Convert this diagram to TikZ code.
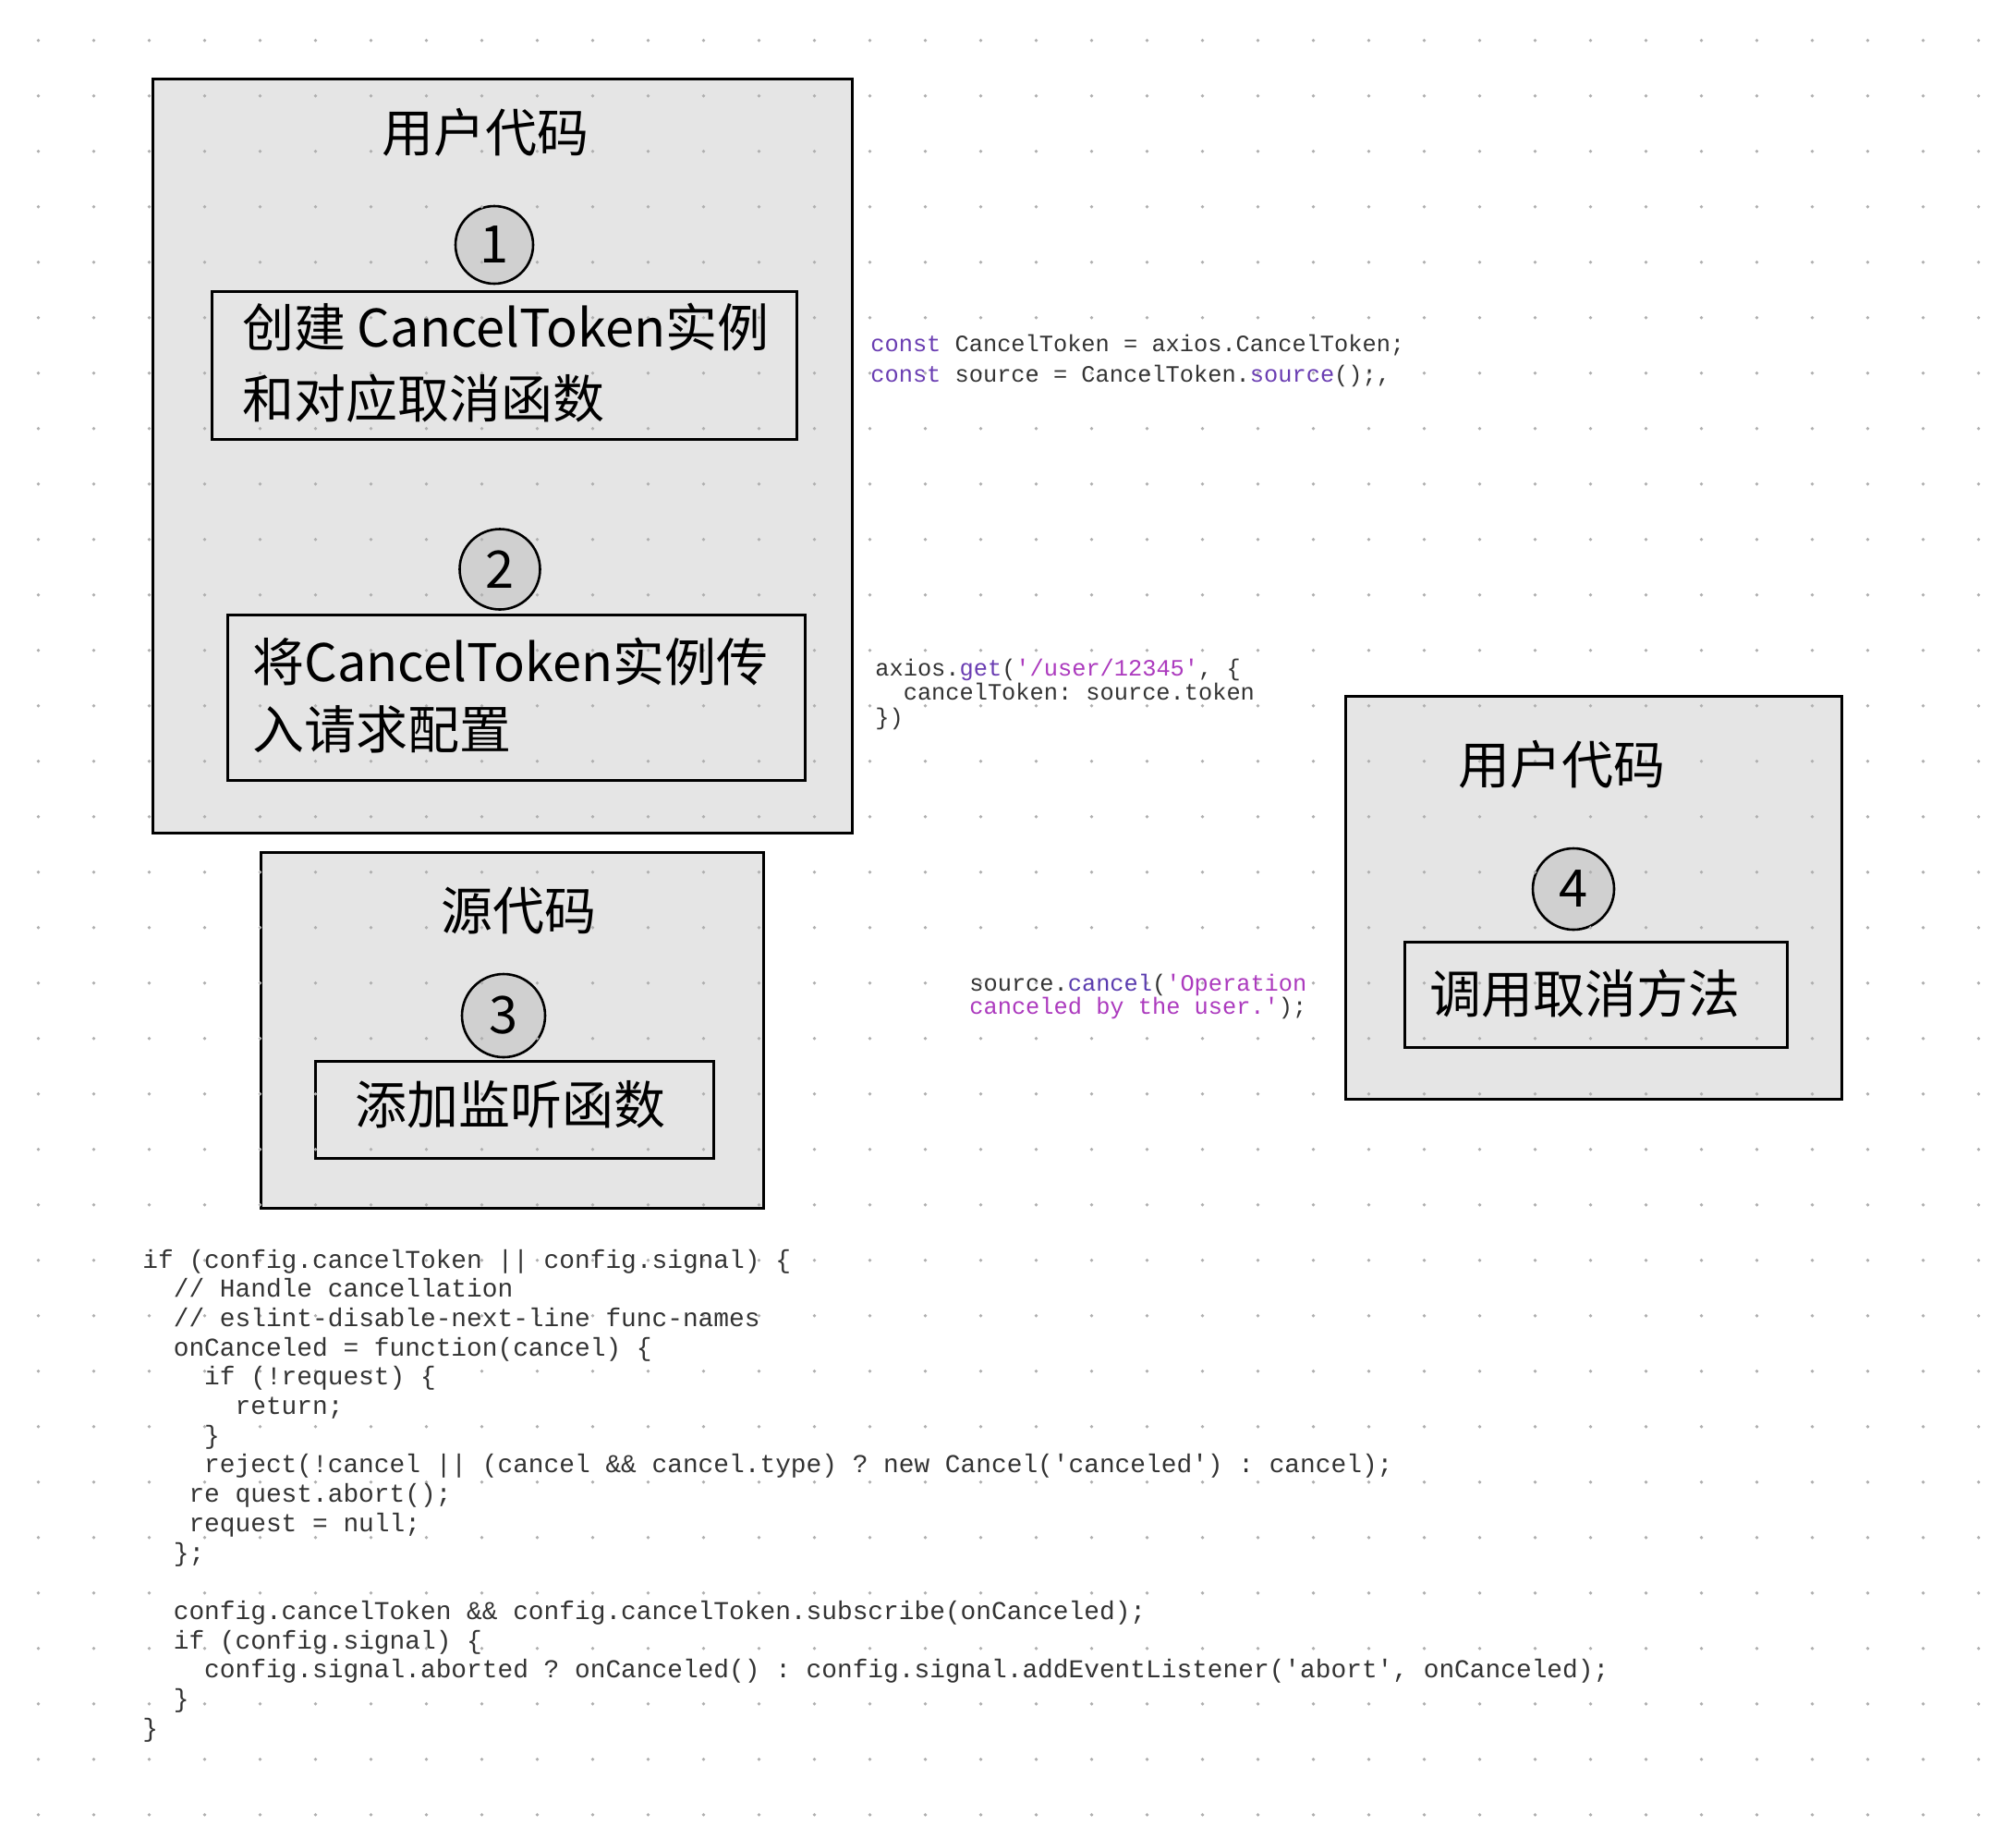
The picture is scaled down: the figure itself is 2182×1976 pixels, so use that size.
\documentclass[tikz,border=0pt]{standalone}
\usepackage{fontspec}
\setmonofont{Liberation Mono}
\newfontfamily\cjk{Noto Sans CJK SC}
\usetikzlibrary{fit}
\definecolor{panelgray}{HTML}{E5E5E5}
\definecolor{numgray}{HTML}{D0D0D0}
\definecolor{dotgray}{HTML}{AFAFAF}
\definecolor{codetext}{HTML}{333333}
\definecolor{kw}{HTML}{6A3DB2}
\definecolor{fn}{HTML}{5A3CAF}
\definecolor{str}{HTML}{AC3ABE}
\begin{document}
\begin{tikzpicture}[x=0.5pt,y=-0.5pt,
  panel/.style={draw=black,line width=1.5pt,fill=panelgray,inner sep=0pt},
  stepbox/.style={draw=black,line width=1.5pt,fill=panelgray,inner sep=0pt},
  numdisc/.style={circle,draw=black,line width=1.3pt,fill=numgray,inner sep=0pt,
    font=\cjk\fontsize{28}{30}\selectfont},
  title/.style={inner sep=0pt,font=\cjk\fontsize{28}{30}\selectfont,
    text height=0.85em,text depth=0.15em},
  cjkline/.style={inner sep=0pt,anchor=west,font=\cjk\fontsize{28}{30}\selectfont,
    text height=0.85em,text depth=0.15em},
  topcode/.style={inner sep=0pt,anchor=west,text=codetext,
    font=\ttfamily\fontsize{12.67}{14}\selectfont,text height=0.7em,text depth=0.2em},
  botcode/.style={inner sep=0pt,anchor=west,text=codetext,
    font=\ttfamily\fontsize{13.92}{15}\selectfont,text height=0.7em,text depth=0.2em}]
\path[use as bounding box,fill=white] (0,0) rectangle (2182,1976);
% panels
\node[panel,fit={(165,85) (922,901)}] (o1) {};
\node[panel,fit={(282,922) (826,1307)}] (o3) {};
\node[panel,fit={(1456,753) (1993,1189)}] (o4) {};
% step boxes
\node[stepbox,fit={(229,315) (862,475)}] (b1) {};
\node[stepbox,fit={(246,665) (871,844)}] (b2) {};
\node[stepbox,fit={(341,1148) (772,1253)}] (b3) {};
\node[stepbox,fit={(1520,1019) (1934,1133)}] (b4) {};
% number discs
\node[numdisc,minimum size=42pt] (n1) at (535,265) {1};
\node[numdisc,minimum size=43.5pt] (n2) at (541,616) {2};
\node[numdisc,minimum size=45pt] (n3) at (545,1099) {3};
\node[numdisc,minimum size=44pt] (n4) at (1703,962) {4};
% dot grid
\foreach \i in {0,...,35}{
  \foreach \j in {0,...,32}{
    \fill[dotgray] (41.5+60*\i,43.8+60*\j) circle[radius=0.95pt];
  }
}
% titles
\node[title] (t1) at (525,157) {用户代码};
\node[title] (t3) at (561,999) {源代码};
\node[title] (t4) at (1690,841) {用户代码};
% step texts
\node[cjkline] (s1a) at (262,368) {创建 CancelToken实例};
\node[cjkline] (s1b) at (262,445) {和对应取消函数};
\node[cjkline] (s2a) at (273,730) {将CancelToken实例传};
\node[cjkline] (s2b) at (273,803) {入请求配置};
\node[title] (s3) at (552,1209) {添加监听函数};
\node[title] (s4) at (1715,1089) {调用取消方法};
% top code snippets
\node[topcode] (k1) at (942,375) {\textcolor{kw}{const} CancelToken = axios.CancelToken;};
\node[topcode] (k2) at (942,408) {\textcolor{kw}{const} source = CancelToken.\textcolor{kw}{source}();,};
\node[topcode] (g1) at (947,726) {axios.\textcolor{kw}{get}(\textcolor{str}{'/user/12345'}, \{};
\node[topcode] (g2) at (977.4,752) {cancelToken: source.token};
\node[topcode] (g3) at (947,779) {\})};
\node[topcode] (x1) at (1049,1067) {source.\textcolor{fn}{cancel}(\textcolor{str}{'Operation}};
\node[topcode] (x2) at (1049,1092) {\textcolor{str}{canceled by the user.'});};
% bottom code
\node[botcode] (l1) at (154,1367) {if (config.cancelToken || config.signal) \{};
\node[botcode] (l2) at (187.4,1398.7) {// Handle cancellation};
\node[botcode] (l3) at (187.4,1430.4) {// eslint-disable-next-line func-names};
\node[botcode] (l4) at (187.4,1462.1) {onCanceled = function(cancel) \{};
\node[botcode] (l5) at (220.8,1493.8) {if (!request) \{};
\node[botcode] (l6) at (254.2,1525.5) {return;};
\node[botcode] (l7) at (220.8,1557.2) {\}};
\node[botcode] (l8) at (220.8,1588.9) {reject(!cancel || (cancel \&\& cancel.type) ? new Cancel('canceled') : cancel);};
\node[botcode] (l9) at (204.1,1620.6) {re quest.abort();};
\node[botcode] (l10) at (204.1,1652.3) {request = null;};
\node[botcode] (l11) at (187.4,1684) {\};};
\node[botcode] (l13) at (187.4,1747.4) {config.cancelToken \&\& config.cancelToken.subscribe(onCanceled);};
\node[botcode] (l14) at (187.4,1779.1) {if (config.signal) \{};
\node[botcode] (l15) at (220.8,1810.8) {config.signal.aborted ? onCanceled() : config.signal.addEventListener('abort', onCanceled);};
\node[botcode] (l16) at (187.4,1842.5) {\}};
\node[botcode] (l17) at (154,1874.2) {\}};
\end{tikzpicture}
\end{document}
